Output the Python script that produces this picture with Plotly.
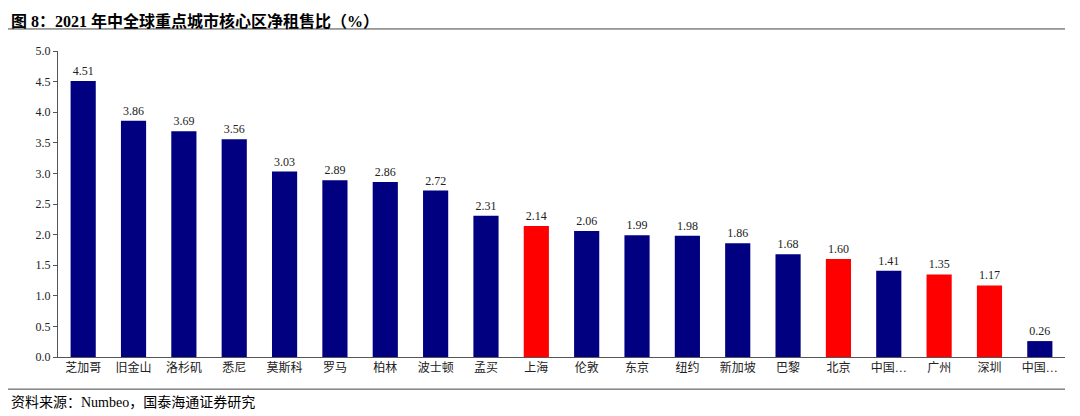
import plotly.graph_objects as go

# 2021年中全球重点城市核心区净租售比（%）
cities = ["芝加哥", "旧金山", "洛杉矶", "悉尼", "莫斯科", "罗马", "柏林", "波士顿", "孟买",
          "上海", "伦敦", "东京", "纽约", "新加坡", "巴黎", "北京", "中国香港", "广州", "深圳", "中国台北"]
tick_labels = ["芝加哥", "旧金山", "洛杉矶", "悉尼", "莫斯科", "罗马", "柏林", "波士顿", "孟买",
               "上海", "伦敦", "东京", "纽约", "新加坡", "巴黎", "北京", "中国…", "广州", "深圳", "中国…"]
ratios = [4.51, 3.86, 3.69, 3.56, 3.03, 2.89, 2.86, 2.72, 2.31,
          2.14, 2.06, 1.99, 1.98, 1.86, 1.68, 1.60, 1.41, 1.35, 1.17, 0.26]
mainland = {"上海", "北京", "广州", "深圳"}

colors = ["#FF0000" if c in mainland else "#000080" for c in cities]
font_family = "Liberation Serif, Noto Sans CJK SC, serif"

fig = go.Figure()
fig.add_trace(go.Bar(
    x=list(range(len(cities))),
    y=ratios,
    marker=dict(color=colors, line=dict(width=0)),
    width=0.5,
    text=[f"{v:.2f}" for v in ratios],
    textposition="outside",
    textfont=dict(size=12, color="#222", family=font_family),
    cliponaxis=False,
    hovertext=cities,
))

fig.update_layout(
    width=1080, height=416,
    margin=dict(l=50, r=23, t=43, b=67),
    paper_bgcolor="white", plot_bgcolor="white",
    showlegend=False,
    font=dict(family=font_family, size=12, color="#222"),
    xaxis=dict(
        tickmode="array", tickvals=list(range(len(cities))), ticktext=tick_labels,
        range=[-0.5, len(cities) - 0.5],
        showline=True, linecolor="#555", ticks="", showgrid=False,
        tickfont=dict(size=12, family=font_family),
    ),
    yaxis=dict(
        range=[0, 5.0], dtick=0.5, tickformat=".1f",
        showline=True, linecolor="#555", ticks="outside", ticklen=4, tickcolor="#555",
        showgrid=False, zeroline=False,
        tickfont=dict(size=12, family=font_family),
    ),
)

fig.add_annotation(
    text="<b>图 8：2021 年中全球重点城市核心区净租售比（%）</b>",
    xref="paper", yref="paper", x=-0.049, y=1.135, xanchor="left", yanchor="top",
    showarrow=False, font=dict(size=16, family=font_family, color="#000"),
)
fig.add_annotation(
    text="资料来源：Numbeo，国泰海通证券研究",
    xref="paper", yref="paper", x=-0.049, y=-0.118, xanchor="left", yanchor="top",
    showarrow=False, font=dict(size=14, family=font_family, color="#000"),
)
fig.add_shape(type="line", xref="paper", yref="paper", x0=-0.05, x1=1.0, y0=1.072, y1=1.072,
              line=dict(color="#444", width=1))
fig.add_shape(type="line", xref="paper", yref="paper", x0=-0.05, x1=1.0, y0=-0.105, y1=-0.105,
              line=dict(color="#444", width=1))

fig.write_html("out.html")
